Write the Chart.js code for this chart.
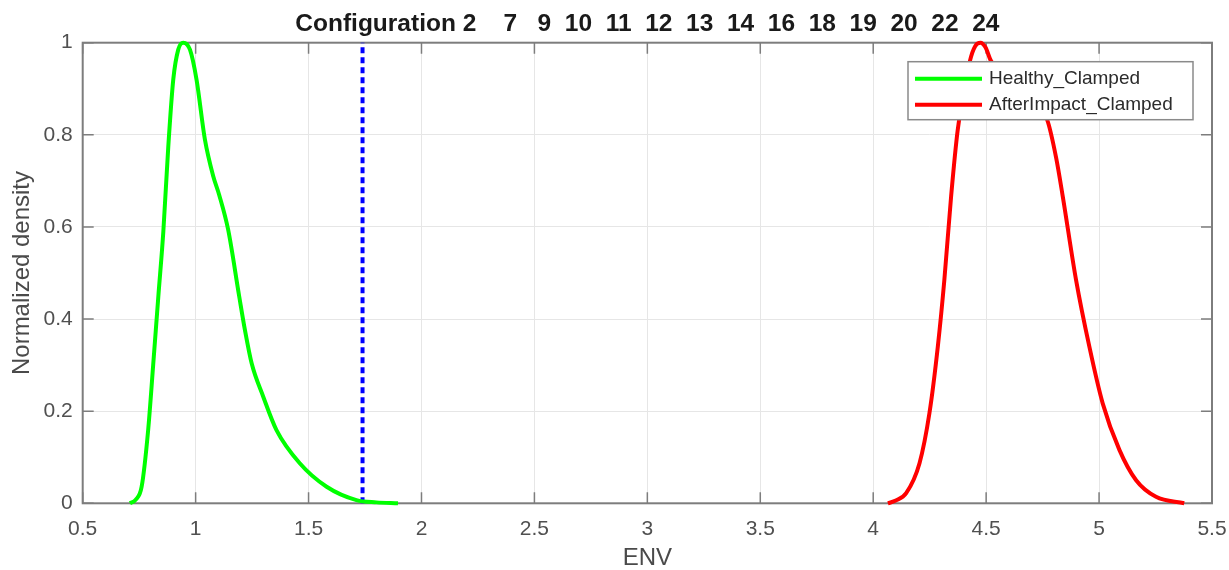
<!DOCTYPE html>
<html>
<head>
<meta charset="utf-8">
<script src="https://cdn.jsdelivr.net/npm/chart.js@4.4.0/dist/chart.umd.min.js"></script>
<style>
  html, body { margin: 0; padding: 0; background: #fff; }
</style>
</head>
<body>
<canvas id="c" width="1229" height="570"></canvas>
<script>
// values
var healthyEnv = [0.709, 0.735, 0.761, 0.790, 0.812, 0.835, 0.857, 0.879, 0.901, 0.923, 0.945, 0.975, 1.004, 1.041, 1.078, 1.104, 1.144, 1.193, 1.218, 1.248, 1.299, 1.358, 1.461, 1.580, 1.712, 1.80, 1.896];
var healthyDensity = [0, 0.008, 0.036, 0.16, 0.30, 0.45, 0.59, 0.775, 0.92, 0.985, 1.0, 0.985, 0.92, 0.79, 0.71, 0.67, 0.594, 0.449, 0.377, 0.304, 0.232, 0.159, 0.087, 0.036, 0.007, 0.002, 0];
var impactEnv = [4.065, 4.10, 4.146, 4.205, 4.249, 4.286, 4.315, 4.345, 4.374, 4.428, 4.452, 4.475, 4.497, 4.522, 4.60, 4.68, 4.77, 4.81, 4.839, 4.898, 4.957, 5.016, 5.090, 5.164, 5.252, 5.377];
var impactDensity = [0, 0.006, 0.022, 0.087, 0.196, 0.34, 0.485, 0.667, 0.81, 0.96, 0.993, 1.0, 0.99, 0.96, 0.925, 0.885, 0.833, 0.75, 0.667, 0.485, 0.34, 0.217, 0.116, 0.05, 0.014, 0];
var thresholdEnv = 1.739;
var seriesNames = ['Healthy_Clamped', 'AfterImpact_Clamped'];
var xTicks = [0.5, 1, 1.5, 2, 2.5, 3, 3.5, 4, 4.5, 5, 5.5];
var xTickLabels = ['0.5', '1', '1.5', '2', '2.5', '3', '3.5', '4', '4.5', '5', '5.5'];
var yTicks = [0, 0.2, 0.4, 0.6, 0.8, 1];
var yTickLabels = ['0', '0.2', '0.4', '0.6', '0.8', '1'];
var configTitle = 'Configuration 2    7   9  10  11  12  13  14  16  18  19  20  22  24';

function pairs(xs, ys) {
    return xs.map(function (x, i) { return { x: x, y: ys[i] }; });
}

var FONT = "'Liberation Sans', Arial, sans-serif";

// box round the axes with inward ticks on all four sides, like matlab
var axesBox = {
    id: 'axesBox',
    beforeDatasetsDraw: function (chart) {
        var a = chart.chartArea, ctx = chart.ctx;
        var xs = chart.scales.x, ys = chart.scales.y;
        ctx.save();
        ctx.strokeStyle = '#7d7d7d';
        ctx.lineWidth = 1.5;
        ctx.beginPath();
        xTicks.forEach(function (v) {
            var px = xs.getPixelForValue(v);
            ctx.moveTo(px, a.bottom); ctx.lineTo(px, a.bottom - 11);
            ctx.moveTo(px, a.top); ctx.lineTo(px, a.top + 11);
        });
        yTicks.forEach(function (v) {
            var py = ys.getPixelForValue(v);
            ctx.moveTo(a.left, py); ctx.lineTo(a.left + 11, py);
            ctx.moveTo(a.right, py); ctx.lineTo(a.right - 11, py);
        });
        ctx.stroke();
        ctx.lineWidth = 2;
        ctx.strokeRect(a.left, a.top, a.right - a.left, a.bottom - a.top);
        ctx.restore();
    },
    afterDatasetsDraw: function (chart) {
        // legend in the top right corner of the axes
        var a = chart.chartArea, ctx = chart.ctx;
        var w = 285, h = 58;
        var left = a.right - 19 - w, top = a.top + 19;
        ctx.save();
        ctx.fillStyle = '#fff';
        ctx.fillRect(left, top, w, h);
        ctx.strokeStyle = '#8a8a8a';
        ctx.lineWidth = 1.5;
        ctx.strokeRect(left, top, w, h);
        ctx.font = '19px ' + FONT;
        ctx.textBaseline = 'middle';
        [0, 1].forEach(function (i) {
            var ds = chart.data.datasets[i];
            var y = top + 17 + i * 26;
            ctx.strokeStyle = ds.borderColor;
            ctx.lineWidth = 4;
            ctx.beginPath();
            ctx.moveTo(left + 7, y);
            ctx.lineTo(left + 74, y);
            ctx.stroke();
            ctx.fillStyle = '#2b2b2b';
            ctx.fillText(ds.label, left + 81, y);
        });
        ctx.restore();
    }
};

new Chart(document.getElementById('c'), {
    type: 'line',
    data: {
        datasets: [{
            label: seriesNames[0],
            data: pairs(healthyEnv, healthyDensity),
            borderColor: '#00ff00',
            borderWidth: 4,
            pointRadius: 0,
            cubicInterpolationMode: 'monotone',
            clip: 6
        }, {
            label: seriesNames[1],
            data: pairs(impactEnv, impactDensity),
            borderColor: '#ff0000',
            borderWidth: 4,
            pointRadius: 0,
            cubicInterpolationMode: 'monotone',
            clip: 6
        }, {
            label: 'threshold',
            data: pairs([thresholdEnv, thresholdEnv], [0, 1]),
            borderColor: '#0000ff',
            borderWidth: 4,
            borderDash: [6, 4],
            pointRadius: 0,
            clip: 6
        }]
    },
    options: {
        responsive: false,
        animation: false,
        events: [],
        layout: { padding: { left: 0, right: 17, top: 0, bottom: 0 } },
        plugins: {
            legend: { display: false },
            tooltip: { enabled: false },
            title: {
                display: true,
                fullSize: false,
                text: configTitle,
                color: '#1a1a1a',
                font: { family: FONT, size: 24.5, weight: 'bold' },
                padding: { top: 10, bottom: 3.3 }
            }
        },
        scales: {
            x: {
                type: 'linear',
                min: 0.5,
                max: 5.5,
                afterBuildTicks: function (s) { s.ticks = xTicks.map(function (v) { return { value: v }; }); },
                afterFit: function (s) { s.height = 66.7; s.paddingLeft = 0; s.paddingRight = 0; },
                grid: { color: '#e6e6e6', lineWidth: 1, drawTicks: false },
                border: { display: false },
                ticks: {
                    color: '#505050',
                    padding: 13,
                    maxRotation: 0,
                    font: { family: FONT, size: 21 },
                    callback: function (v, i) { return xTickLabels[i]; }
                },
                title: {
                    display: true,
                    text: 'ENV',
                    color: '#4a4a4a',
                    font: { family: FONT, size: 24, lineHeight: 1 },
                    padding: { top: 0, bottom: 0 }
                }
            },
            y: {
                type: 'linear',
                min: 0,
                max: 1,
                afterBuildTicks: function (s) { s.ticks = yTicks.map(function (v) { return { value: v }; }); },
                afterFit: function (s) { s.width = 82.7; },
                grid: { color: '#e6e6e6', lineWidth: 1, drawTicks: false },
                border: { display: false },
                ticks: {
                    color: '#505050',
                    padding: 10,
                    font: { family: FONT, size: 21 },
                    callback: function (v, i) { return yTickLabels[i]; }
                },
                title: {
                    display: true,
                    text: 'Normalized density',
                    color: '#4a4a4a',
                    font: { family: FONT, size: 24, lineHeight: 1 },
                    padding: { top: 10, bottom: 0 }
                }
            }
        }
    },
    plugins: [axesBox]
});
</script>
</body>
</html>
